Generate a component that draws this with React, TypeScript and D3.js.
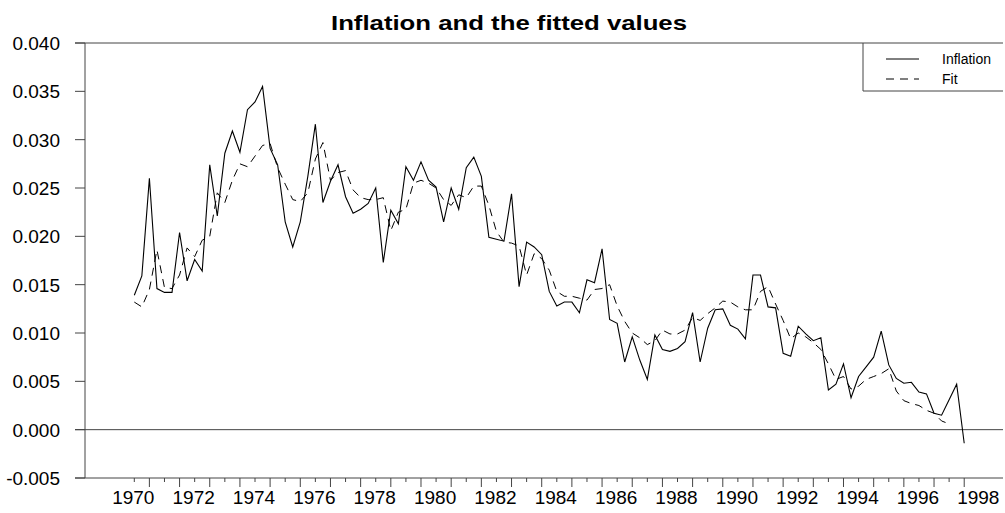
import React, { useEffect, useRef } from "react";
import * as d3 from "d3";

// quarterly series, first observation 1970 Q1
const startYear = 1970;

const inflation = [
  0.0139, 0.0159, 0.026, 0.0146, 0.0142, 0.0142, 0.0204, 0.0154, 0.0176, 0.0164,
  0.0274, 0.0221, 0.0286, 0.0309, 0.0287, 0.0331, 0.0339, 0.0355, 0.0291, 0.0274,
  0.0215, 0.0189, 0.0215, 0.0262, 0.0316, 0.0235, 0.0257, 0.0274, 0.0241, 0.0224,
  0.0228, 0.0234, 0.025, 0.0173, 0.0227, 0.0213, 0.0272, 0.0258, 0.0277, 0.0258,
  0.0251, 0.0215, 0.025, 0.0228, 0.0271, 0.0282, 0.0262, 0.0199, 0.0197, 0.0195,
  0.0244, 0.0148, 0.0194, 0.0189, 0.0181, 0.0143, 0.0128, 0.0132, 0.0132, 0.0121,
  0.0155, 0.0152, 0.0187, 0.0114, 0.011, 0.007, 0.0096, 0.0072, 0.0052, 0.0098,
  0.0083, 0.0081, 0.0084, 0.0091, 0.0121, 0.007, 0.0105, 0.0124, 0.0125, 0.0108,
  0.0104, 0.0094, 0.016, 0.016, 0.0127, 0.0126, 0.0079, 0.0076, 0.0107, 0.0099,
  0.0092, 0.0095, 0.0041, 0.0047, 0.0068, 0.0033, 0.0055, 0.0065, 0.0075, 0.0102,
  0.0067, 0.0053, 0.0048, 0.0049, 0.0039, 0.0037, 0.0017, 0.0015, 0.0031, 0.0047,
  -0.0014,
];

const fitted = [
  0.0132, 0.0127, 0.0145, 0.0186, 0.0147, 0.0146, 0.016, 0.0188, 0.0179, 0.0196,
  0.02, 0.0245, 0.0235, 0.0258, 0.0275, 0.0272, 0.0283, 0.0294, 0.0296, 0.0271,
  0.0254, 0.0238, 0.0236, 0.0245, 0.028, 0.0297, 0.0258, 0.0266, 0.0268, 0.0248,
  0.024, 0.0238, 0.0238, 0.024, 0.0206, 0.0225, 0.0228, 0.0255, 0.0258, 0.0255,
  0.025, 0.0238, 0.0232, 0.0243, 0.024, 0.0252, 0.0252, 0.0232, 0.0205, 0.0194,
  0.0193, 0.019, 0.016, 0.0182, 0.0177, 0.0165, 0.0143, 0.0138, 0.0138, 0.0136,
  0.0134, 0.0145, 0.0146, 0.015, 0.0128, 0.0112, 0.01, 0.0095, 0.0088, 0.0092,
  0.0103, 0.0099, 0.0099, 0.0103, 0.0116, 0.0113, 0.012, 0.0126, 0.0133, 0.0132,
  0.0127, 0.0124, 0.0124, 0.0143, 0.0148, 0.013, 0.0113, 0.0094, 0.01, 0.0096,
  0.009, 0.0083, 0.0068, 0.0052, 0.0055, 0.0042, 0.0045, 0.0052, 0.0055, 0.0058,
  0.0063, 0.004, 0.003, 0.0027, 0.0025, 0.002, 0.0017, 0.0009, 0.0006,
];

const yTicks = [-0.005, 0, 0.005, 0.01, 0.015, 0.02, 0.025, 0.03, 0.035, 0.04];
const yearLabels = [1970, 1972, 1974, 1976, 1978, 1980, 1982, 1984, 1986, 1988, 1990, 1992, 1994, 1996, 1998];
const seriesNames = ["Inflation", "Fit"];

const font = "'Liberation Sans', Arial, sans-serif";

export default function App() {
  const svgRef = useRef<SVGSVGElement>(null);

  useEffect(() => {
    const svg = d3.select(svgRef.current);
    svg.selectAll("*").remove();

    const x = d3.scaleLinear().domain([1970, 1998]).range([134.3, 979.3]);
    const y = d3.scaleLinear().domain([-0.005, 0.04]).range([478, 43]);
    const left = 85;
    const right = 1003;
    const axisColor = "#444";

    // title
    svg
      .append("text")
      .attr("x", 509)
      .attr("y", 30)
      .attr("text-anchor", "middle")
      .attr("textLength", 356)
      .attr("lengthAdjust", "spacingAndGlyphs")
      .style("font-family", font)
      .style("font-weight", "bold")
      .style("font-size", "21px")
      .text("Inflation and the fitted values");

    // horizontal lines: top, zero, bottom
    [0.04, 0, -0.005].forEach((v) => {
      svg
        .append("line")
        .attr("x1", 75)
        .attr("x2", right)
        .attr("y1", y(v))
        .attr("y2", y(v))
        .attr("stroke", axisColor)
        .attr("stroke-width", 1);
    });

    // y axis
    svg
      .append("line")
      .attr("x1", left)
      .attr("x2", left)
      .attr("y1", y(0.04))
      .attr("y2", y(-0.005))
      .attr("stroke", axisColor);

    const yg = svg.append("g");
    yg.selectAll("line")
      .data(yTicks)
      .enter()
      .append("line")
      .attr("x1", 75)
      .attr("x2", left)
      .attr("y1", (d) => y(d))
      .attr("y2", (d) => y(d))
      .attr("stroke", axisColor);
    yg.selectAll("text")
      .data(yTicks)
      .enter()
      .append("text")
      .attr("x", 60)
      .attr("y", (d) => y(d))
      .attr("dy", "0.36em")
      .attr("text-anchor", "end")
      .style("font-family", font)
      .style("font-size", "19px")
      .text((d) => d.toFixed(3));

    // x ticks, every half year
    const halfYears = d3.range(0, 56).map((i) => startYear + i / 2);
    svg
      .append("g")
      .selectAll("line")
      .data(halfYears)
      .enter()
      .append("line")
      .attr("x1", (d) => x(d))
      .attr("x2", (d) => x(d))
      .attr("y1", y(-0.005))
      .attr("y2", (d) => y(-0.005) + (d % 1 === 0 ? 4 : 9))
      .attr("stroke", axisColor);

    svg
      .append("g")
      .selectAll("text")
      .data(yearLabels)
      .enter()
      .append("text")
      .attr("x", (d) => x(d) - 1)
      .attr("y", 504)
      .attr("text-anchor", "middle")
      .style("font-family", font)
      .style("font-size", "19px")
      .text((d) => d);

    const line = d3
      .line<number>()
      .x((_, i) => x(startYear + i / 4))
      .y((d) => y(d));

    svg
      .append("path")
      .attr("d", line(fitted))
      .attr("fill", "none")
      .attr("stroke", "#000")
      .attr("stroke-width", 1)
      .attr("stroke-dasharray", "8,6");

    svg
      .append("path")
      .attr("d", line(inflation))
      .attr("fill", "none")
      .attr("stroke", "#000")
      .attr("stroke-width", 1.1);

    // legend
    const lg = svg.append("g");
    lg.append("path")
      .attr("d", `M863,${y(0.04)}V91H${right}`)
      .attr("fill", "none")
      .attr("stroke", axisColor);
    seriesNames.forEach((name, i) => {
      const ly = 59 + i * 20;
      lg.append("line")
        .attr("x1", 886)
        .attr("x2", 919)
        .attr("y1", ly)
        .attr("y2", ly)
        .attr("stroke", "#000")
        .attr("stroke-dasharray", i === 1 ? "8,6" : null);
      lg.append("text")
        .attr("x", 942)
        .attr("y", ly)
        .attr("dy", "0.36em")
        .style("font-family", font)
        .style("font-size", "14px")
        .text(name);
    });
  }, []);

  return (
    <svg
      ref={svgRef}
      width={1005}
      height={513}
      style={{ position: "absolute", left: 0, top: 0, background: "#fff" }}
    />
  );
}
